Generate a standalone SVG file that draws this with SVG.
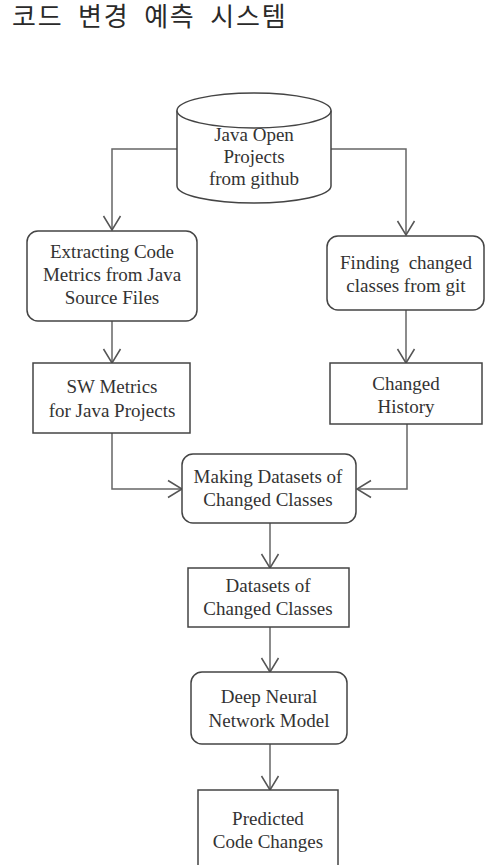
<svg xmlns="http://www.w3.org/2000/svg" width="487" height="865" viewBox="0 0 487 865">
<defs>
<style>
.title{font-family:"Noto Sans CJK KR","Noto Sans",sans-serif;font-size:26px;font-weight:400;fill:#2a2a2a;letter-spacing:1.8px;word-spacing:7px}
.node{fill:#fff;stroke:#444;stroke-width:1.5}
.lbl{font-family:"Liberation Serif","Times New Roman",serif;font-size:19px;fill:#333;text-anchor:middle}
.conn{fill:none;stroke:#666;stroke-width:1.5}
</style>
<marker id="arr" markerUnits="userSpaceOnUse" viewBox="-15 -10 17 20" refX="0" refY="0" markerWidth="17" markerHeight="20" orient="auto" overflow="visible">
<path d="M-14,-8.5 L0,0 L-14,8.5" fill="none" stroke="#555" stroke-width="1.5"/>
</marker>
</defs>
<rect width="487" height="865" fill="#fff"/>
<text class="title" x="12" y="26">코드 변경 예측 시스템</text>

<g id="connectors">
<path class="conn" d="M177,149 H112 V230" marker-end="url(#arr)"/>
<path class="conn" d="M331,149 H406 V235" marker-end="url(#arr)"/>
<path class="conn" d="M112,321 V363" marker-end="url(#arr)"/>
<path class="conn" d="M406,310 V363" marker-end="url(#arr)"/>
<path class="conn" d="M112,433 V489 H182" marker-end="url(#arr)"/>
<path class="conn" d="M407,424 V489 H357" marker-end="url(#arr)"/>
<path class="conn" d="M270,523 V568" marker-end="url(#arr)"/>
<path class="conn" d="M270,627 V672" marker-end="url(#arr)"/>
<path class="conn" d="M270,744 V790" marker-end="url(#arr)"/>
</g>

<g id="java-open-projects">
<path class="node" d="M177,110.5 V186 A77,17 0 0 0 331,186 V110.5"/>
<ellipse class="node" cx="254" cy="110.5" rx="77" ry="17.5"/>
<text class="lbl" x="254" y="141">Java Open</text>
<text class="lbl" x="254" y="163">Projects</text>
<text class="lbl" x="254" y="185">from github</text>
</g>

<g id="extracting-metrics">
<rect class="node" x="27" y="231" width="170" height="90" rx="11"/>
<text class="lbl" x="112" y="258">Extracting Code</text>
<text class="lbl" x="112" y="281">Metrics from Java</text>
<text class="lbl" x="112" y="304">Source Files</text>
</g>

<g id="finding-changed">
<rect class="node" x="327" y="236" width="157" height="74" rx="11"/>
<text class="lbl" x="406" y="269" xml:space="preserve">Finding  changed</text>
<text class="lbl" x="406" y="292">classes from git</text>
</g>

<g id="sw-metrics">
<rect class="node" x="33" y="363" width="157" height="70"/>
<text class="lbl" x="112" y="393">SW Metrics</text>
<text class="lbl" x="112" y="417">for Java Projects</text>
</g>

<g id="changed-history">
<rect class="node" x="330" y="363" width="152" height="61"/>
<text class="lbl" x="406" y="390">Changed</text>
<text class="lbl" x="406" y="413">History</text>
</g>

<g id="making-datasets">
<rect class="node" x="182" y="454" width="174" height="69" rx="11"/>
<text class="lbl" x="268" y="483">Making Datasets of</text>
<text class="lbl" x="268" y="506">Changed Classes</text>
</g>

<g id="datasets">
<rect class="node" x="188" y="568" width="161" height="59"/>
<text class="lbl" x="268" y="592">Datasets of</text>
<text class="lbl" x="268" y="615">Changed Classes</text>
</g>

<g id="dnn-model">
<rect class="node" x="191" y="672" width="156" height="72" rx="11"/>
<text class="lbl" x="269" y="703">Deep Neural</text>
<text class="lbl" x="269" y="727">Network Model</text>
</g>

<g id="predicted">
<rect class="node" x="198" y="790" width="140" height="90"/>
<text class="lbl" x="268" y="825">Predicted</text>
<text class="lbl" x="268" y="848">Code Changes</text>
</g>
</svg>
